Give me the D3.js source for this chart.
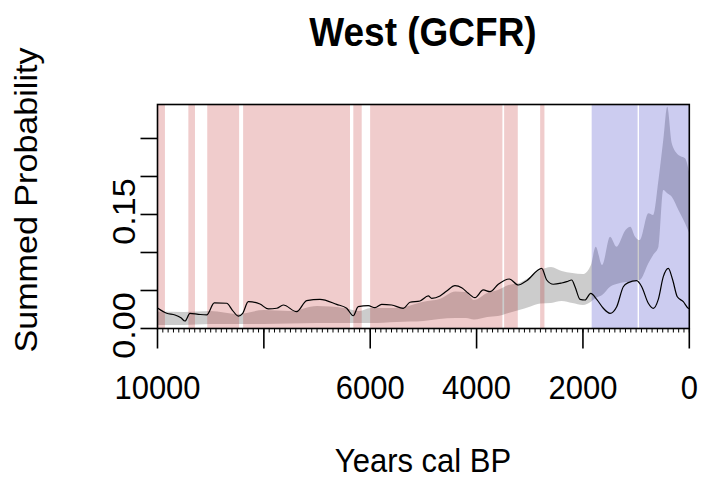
<!DOCTYPE html>
<html>
<head>
<meta charset="utf-8">
<script src="https://cdn.jsdelivr.net/npm/d3@7"></script>
<style>
  html, body { margin: 0; padding: 0; background: #fff; }
  svg text { font-family: "Liberation Sans", Arial, sans-serif; fill: #000; }
</style>
</head>
<body>
<svg id="chart" width="703" height="483"></svg>
<script>
// summed probability (black line)
const spdYears = [10000, 9827, 9671, 9560, 9483, 9389, 9233, 9075, 8932, 8699, 8594, 8481, 8398, 8293, 8073,
  7917, 7759, 7635, 7383, 7195, 6945, 6631, 6443, 6319, 6225, 6037, 5911, 5785, 5597, 5378, 5252, 5064,
  4908, 4844, 4688, 4562, 4406, 4280, 4156, 4030, 3874, 3748, 3592, 3385, 3215, 3058, 2775, 2681, 2557,
  2399, 2305, 2211, 2149, 2055, 1961, 1854, 1741, 1617, 1491, 1365, 1241, 1147, 990, 895, 771, 677, 583,
  489, 395, 312, 226, 113, 19, 0];
const spdValues = [0.027, 0.020, 0.0178, 0.014, 0.0099, 0.020, 0.0187, 0.0178, 0.0336, 0.0332, 0.0243, 0.0164, 0.020, 0.0353, 0.0322,
  0.0257, 0.0266, 0.0309, 0.0221, 0.0366, 0.0384, 0.0318, 0.0266, 0.0168, 0.0287, 0.030, 0.0274, 0.0318, 0.0309, 0.0266, 0.0345, 0.0362,
  0.0428, 0.0397, 0.0428, 0.0493, 0.0563, 0.0537, 0.0463, 0.0405, 0.0507, 0.0484, 0.0582, 0.0651, 0.0572, 0.0629, 0.0792, 0.0638, 0.0582,
  0.0599, 0.0616, 0.0638, 0.055, 0.0384, 0.0375, 0.0463, 0.0384, 0.0266, 0.020, 0.0287, 0.055, 0.0603, 0.0629, 0.055, 0.0332, 0.0266, 0.0384,
  0.0682, 0.0792, 0.0638, 0.0418, 0.0353, 0.0266, 0.026];

// simulation envelope (grey)
const envYears = [10000, 9500, 9000, 8500, 8000, 7500, 7000, 6500, 6200, 6000, 5500, 5000, 4700, 4400, 4200, 4050,
  3800, 3600, 3400, 3200, 3000, 2800, 2600, 2400, 2200, 2000, 1850, 1760, 1640, 1490, 1370, 1200, 1110,
  1020, 930, 770, 680, 580, 490, 415, 330, 205, 80, 0];
const envLo = [0.0046, 0.0046, 0.0059, 0.0059, 0.0059, 0.0066, 0.0072, 0.0072, 0.0072, 0.0072, 0.0086, 0.0099, 0.0125, 0.0138, 0.0138, 0.0118,
  0.0151, 0.0164, 0.0204, 0.0243, 0.0287, 0.0329, 0.0336, 0.0362, 0.0336, 0.031, 0.0353, 0.040, 0.044, 0.055, 0.0586, 0.0612, 0.0616,
  0.0632, 0.0638, 0.0858, 0.0967, 0.1076, 0.1822, 0.178, 0.1734, 0.156, 0.1384, 0.1253];
const envHi = [0.0224, 0.0217, 0.023, 0.019, 0.0243, 0.023, 0.0296, 0.027, 0.023, 0.027, 0.027, 0.0353, 0.0388, 0.0487, 0.048, 0.0375,
  0.0467, 0.0507, 0.0572, 0.0599, 0.0678, 0.077, 0.081, 0.0757, 0.073, 0.0717, 0.0836, 0.1076, 0.0836, 0.1208, 0.1076, 0.1296, 0.134,
  0.1208, 0.1164, 0.1516, 0.1493, 0.1954, 0.248, 0.2918, 0.2437, 0.2283, 0.224, 0.2042];

// significant deviations: [start, end] in years cal BP
const positiveBands = [[10000, 9860], [9420, 9295], [9065, 8465], [8390, 6380], [6318, 6160], [6002, 3514], [3482, 3225], [2805, 2724]];
const negativeBands = [[1836, 972], [946, 0]];

const xTicks = [10000, 8000, 6000, 4000, 2000, 0];
const xTickLabels = ["10000", "", "6000", "4000", "2000", "0"];
const yTicks = [0, 0.05, 0.10, 0.15, 0.20, 0.25];
const yTickLabels = ["0.00", "", "", "0.15", "", ""];

const svg = d3.select("#chart");
const m = { left: 157.5, right: 689.3, top: 104.5, bottom: 328.5 };
const stretch = 1.1;

const x = d3.scaleLinear().domain([10000, 0]).range([m.left, m.right]);
const y = d3.scaleLinear().domain([0, 0.2947]).range([m.bottom, m.top]);

// envelope
const env = envYears.map((yr, i) => ({ yr, lo: envLo[i], hi: envHi[i] }));
svg.append("path")
  .datum(env)
  .attr("fill", "rgba(0,0,0,0.2)")
  .attr("d", d3.area().x(d => x(d.yr)).y0(d => y(d.lo)).y1(d => y(d.hi)).curve(d3.curveMonotoneX));

// bands
function drawBands(bands, color) {
  svg.append("g").selectAll("rect")
    .data(bands)
    .join("rect")
    .attr("x", d => x(d[0]))
    .attr("width", d => x(d[1]) - x(d[0]))
    .attr("y", m.top)
    .attr("height", m.bottom - m.top)
    .attr("fill", color);
}
drawBands(positiveBands, "rgba(179,0,0,0.2)");
drawBands(negativeBands, "rgba(0,0,179,0.2)");

// spd line
const spd = spdYears.map((yr, i) => ({ yr, v: spdValues[i] }));
svg.append("path")
  .datum(spd)
  .attr("fill", "none")
  .attr("stroke", "#000")
  .attr("stroke-width", 1.2)
  .attr("d", d3.line().x(d => x(d.yr)).y(d => y(d.v)).curve(d3.curveMonotoneX));

// box
svg.append("rect")
  .attr("x", m.left).attr("y", m.top)
  .attr("width", m.right - m.left).attr("height", m.bottom - m.top)
  .attr("fill", "none").attr("stroke", "#000").attr("stroke-width", 1.6);

// x axis
const xAxis = svg.append("g").attr("transform", `translate(0,${m.bottom})`);
xAxis.selectAll("line.minor")
  .data(d3.range(0, 10001, 100))
  .join("line")
  .attr("x1", d => x(d)).attr("x2", d => x(d))
  .attr("y1", 0).attr("y2", 4)
  .attr("stroke", "#000").attr("stroke-width", 1);
xAxis.selectAll("line.major")
  .data(xTicks)
  .join("line")
  .attr("x1", d => x(d)).attr("x2", d => x(d))
  .attr("y1", 0).attr("y2", 20)
  .attr("stroke", "#000").attr("stroke-width", 1.6);
svg.append("g").selectAll("text")
  .data(xTicks)
  .join("text")
  .attr("transform", d => `translate(${x(d)},399) scale(1,${stretch})`)
  .attr("text-anchor", "middle")
  .style("font-size", "31px")
  .text((d, i) => xTickLabels[i]);

// y axis
svg.append("g").selectAll("line")
  .data(yTicks)
  .join("line")
  .attr("x1", m.left - 17).attr("x2", m.left)
  .attr("y1", d => y(d)).attr("y2", d => y(d))
  .attr("stroke", "#000").attr("stroke-width", 1.6);
svg.append("g").selectAll("text")
  .data(yTicks)
  .join("text")
  .attr("transform", d => `translate(135,${y(d) - 3}) scale(1,${stretch}) rotate(-90)`)
  .attr("text-anchor", "middle")
  .style("font-size", "31px")
  .text((d, i) => yTickLabels[i]);

// titles
svg.append("text")
  .attr("transform", `translate(423,46) scale(1,${stretch})`)
  .attr("text-anchor", "middle")
  .style("font-size", "37px")
  .style("font-weight", "bold")
  .text("West (GCFR)");
svg.append("text")
  .attr("transform", `translate(423,472) scale(1,${stretch})`)
  .attr("text-anchor", "middle")
  .style("font-size", "31px")
  .text("Years cal BP");
svg.append("text")
  .attr("transform", `translate(37,200) scale(1,${stretch}) rotate(-90)`)
  .attr("text-anchor", "middle")
  .style("font-size", "31px")
  .text("Summed Probability");
</script>
</body>
</html>
